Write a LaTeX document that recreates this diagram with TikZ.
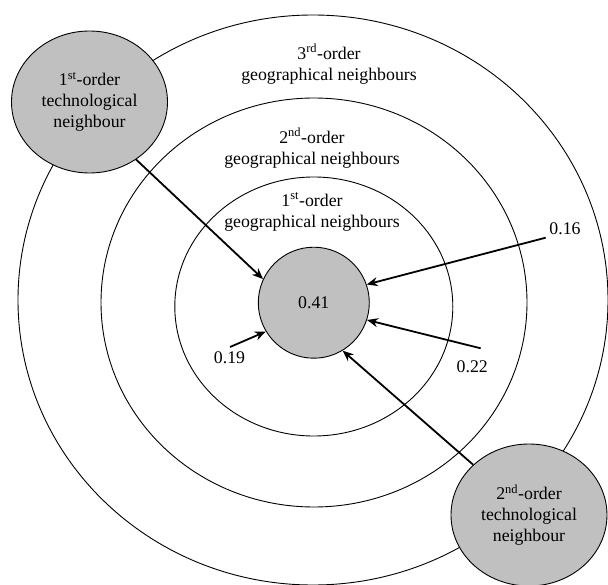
\documentclass[tikz,border=0pt]{standalone}
\usepackage{fontspec}
\setmainfont{Liberation Serif}
\definecolor{nbgray}{HTML}{C0C0C0}
\usepackage{tikz}
\usetikzlibrary{arrows.meta, positioning, shapes.geometric}
\usepackage{xcolor}

\begin{document}
\begin{tikzpicture}[x=1pt, y=-1pt,
  ring/.style={draw=black, line width=0.9pt},
  core/.style={circle, draw=black, line width=0.9pt, fill=nbgray, minimum size=111pt, inner sep=0pt},
  tech/.style={ellipse, draw=black, line width=0.9pt, fill=nbgray, minimum width=156pt,
               minimum height=142pt, inner sep=0pt, align=center},
  geo/.style={align=center},
  val/.style={inner sep=1pt},
  link/.style={-{Stealth[length=11pt, width=9pt]}, line width=1.8pt},
  every node/.style={font=\fontsize{17.8}{21}\selectfont},
]
  \useasboundingbox (0,0) rectangle (608,585);

  % Rings
  \draw[ring] (313,300) ellipse [x radius=295, y radius=285];
  \draw[ring] (314,302.5) ellipse [x radius=213, y radius=204.5];
  \draw[ring] (313.8,306.5) ellipse [x radius=139, y radius=129.5];

  \node[geo] (geo3) at (329,64) {3\textsuperscript{rd}-order\\geographical neighbours};
  \node[geo] (geo2) at (312,148) {2\textsuperscript{nd}-order\\geographical neighbours};
  \node[geo] (geo1) at (312,212) {1\textsuperscript{st}-order\\geographical neighbours};

  \node[core] (core) at (313.8,302.7) {0.41};
  \node[tech] (tech1) at (89.5,102) {1\textsuperscript{st}-order\\technological\\neighbour};
  \node[tech] (tech2) at (529,515) {2\textsuperscript{nd}-order\\technological\\neighbour};

  \coordinate (c16) at (545.7,237.7);
  \coordinate (c22) at (480.7,348.3);
  \coordinate (c19) at (230,347);
  \node[val] (v16) at (565,228.3) {0.16};
  \node[val] (v22) at (472.3,366.7) {0.22};
  \node[val] (v19) at (229.5,358) {0.19};

  % Arrows
  \draw[link] (tech1.-51) -- (core.155);
  \draw[link] (tech2.138) -- (core.-59);
  \draw[link] (c16) -- (core.19);
  \draw[link] (c22) -- (core.-18);
  \draw[link] (c19) -- (core.-149);
\end{tikzpicture}
\end{document}
